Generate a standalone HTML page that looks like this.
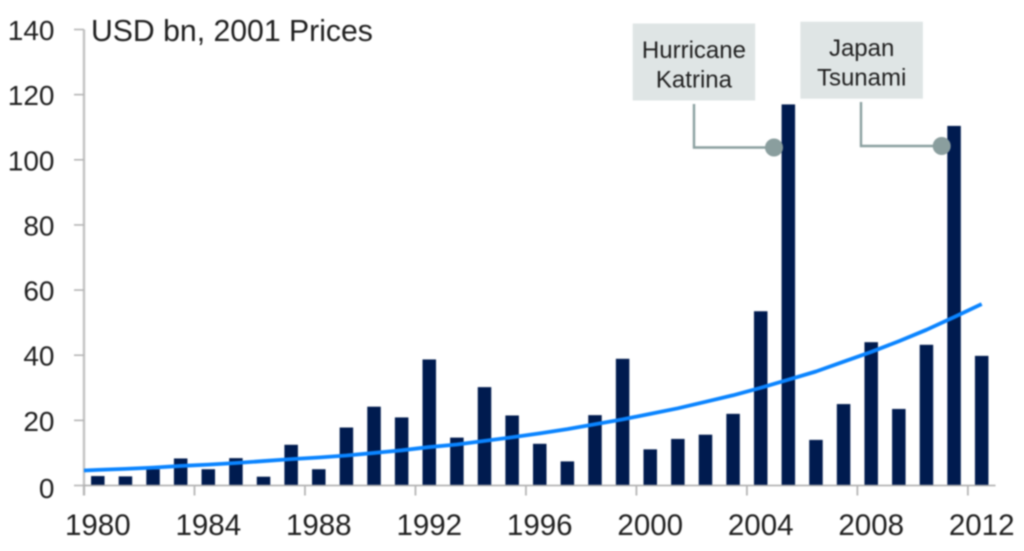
<!DOCTYPE html>
<html lang="en">
<head>
<meta charset="utf-8">
<title>USD bn, 2001 Prices</title>
<style>
html,body{margin:0;padding:0;background:#fff;}
body{width:1024px;height:551px;overflow:hidden;}
svg{display:block;filter:blur(0.75px);}
text{font-family:"Liberation Sans",sans-serif;fill:#1f1f1f;}
</style>
</head>
<body>
<svg id="chart" xmlns="http://www.w3.org/2000/svg" width="1024" height="551" viewBox="0 0 1024 551"></svg>
<script>
const categories = [1980,1981,1982,1983,1984,1985,1986,1987,1988,1989,1990,1991,1992,1993,1994,1995,1996,1997,1998,1999,2000,2001,2002,2003,2004,2005,2006,2007,2008,2009,2010,2011,2012];
const lossValues = [2.9,2.8,5,8.3,5,8.4,2.7,12.5,5,17.8,24.2,20.9,38.7,14.7,30.2,21.5,12.8,7.4,21.6,38.9,11.1,14.3,15.6,22,53.5,117,14,25,44,23.5,43.2,110.4,39.8];
const trendYears = [1979.5,1980,1981,1982,1983,1984,1985,1986,1987,1988,1989,1990,1991,1992,1993,1994,1995,1996,1997,1998,1999,2000,2001,2002,2003,2004,2005,2006,2007,2008,2009,2010,2011,2012];
const trendValues = [4.6,4.8,5.1,5.5,6,6.4,6.9,7.5,8.1,8.6,9.2,10,10.8,11.8,12.6,13.7,14.8,16,17.3,18.8,20.3,22,23.7,25.7,27.7,30,32.5,35,38,41,44.3,47.8,51.7,55.7];
const yTickLabels = [0,20,40,60,80,100,120,140];
const xTickLabels = [1980,1984,1988,1992,1996,2000,2004,2008,2012];
const chartTitle = "USD bn, 2001 Prices";

const NS = "http://www.w3.org/2000/svg";
const svg = document.getElementById("chart");
const plotLeft = 84, plotRight = 995.5, plotBottom = 485.5, plotTop = 29.5;
const yMax = 140;
const barWidth = 13.5;
const bandWidth = (plotRight - plotLeft) / categories.length;

function yScale(v){ return plotBottom - (v / yMax) * (plotBottom - plotTop); }
function xCenter(year){ return plotLeft + (year - categories[0] + 0.5) * bandWidth; }
function xEdge(year){ return plotLeft + (year - categories[0]) * bandWidth; }
function make(tag, attrs, parent){
  const el = document.createElementNS(NS, tag);
  for (const k in attrs) el.setAttribute(k, attrs[k]);
  (parent || svg).appendChild(el);
  return el;
}

// y axis
const yAxis = make("line", {x1:plotLeft, x2:plotLeft, y1:plotTop, y2:plotBottom + 10, stroke:"#c2c2c2", "stroke-width":2.4});


yTickLabels.forEach(function(v){
  const tick = make("line", {x1:plotLeft - 10, x2:plotLeft, y1:yScale(v), y2:yScale(v), stroke:"#b5b5b5", "stroke-width":1.6});
  
  
  const label = make("text", {x:54.5, y:yScale(v) + (v === 0 ? 12.5 : 10.5), "text-anchor":"end", "font-size":28});
  label.textContent = v;
  
  
});

// bars
categories.forEach(function(year, i){
  const bar = make("rect", {x:xCenter(year) - barWidth / 2, y:yScale(lossValues[i]), width:barWidth, height:plotBottom - yScale(lossValues[i]), fill:"#001b4f"});
  
  
});

// x axis
const xAxis = make("line", {x1:plotLeft, x2:plotRight, y1:plotBottom, y2:plotBottom, stroke:"#a8a8a8", "stroke-width":1.6});


xTickLabels.forEach(function(year){
  const tick = make("line", {x1:xEdge(year), x2:xEdge(year), y1:plotBottom, y2:plotBottom + 10, stroke:"#b5b5b5", "stroke-width":1.8});
  
  
  const label = make("text", {x:xCenter(year), y:535, "text-anchor":"middle", "font-size":29.5});
  label.textContent = year;
  
  
});

// trend line
const trendPoints = trendYears.map(function(year, i){ return xCenter(year) + "," + yScale(trendValues[i]); }).join(" ");
const trend = make("polyline", {points:trendPoints, fill:"none", stroke:"#0a84ff", "stroke-width":3.8, "stroke-linejoin":"round"});



// chart title
const title = make("text", {x:91, y:41, "font-size":30.2});
title.textContent = chartTitle;



// annotations
function annotation(opts){
  const box = make("rect", {x:opts.bx, y:opts.by, width:122.5, height:77, fill:"#dfe5e5"});
  
  
  const l1 = make("text", {x:opts.bx + 61.25, y:opts.by + 34.5, "text-anchor":"middle", "font-size":opts.fs});
  l1.textContent = opts.line1;
  
  
  const l2 = make("text", {x:opts.bx + 61.25, y:opts.by + 64, "text-anchor":"middle", "font-size":opts.fs});
  l2.textContent = opts.line2;
  
  
  const conn = make("polyline", {points:opts.lx + "," + opts.ly + " " + opts.lx + "," + opts.dy + " " + opts.dx + "," + opts.dy, fill:"none", stroke:"#8ba0a0", "stroke-width":2.4});
  
  
  const dot = make("circle", {cx:opts.dx, cy:opts.dy, r:9, fill:"#8a9e9e"});
  
  
}
annotation({name:"hurricane-katrina", bx:632.7, by:23.5, line1:"Hurricane", line2:"Katrina", fs:24, lx:694, ly:104, dx:774, dy:147.5});
annotation({name:"japan-tsunami", bx:800.4, by:21.7, line1:"Japan", line2:"Tsunami", fs:24, lx:861, ly:102, dx:941.7, dy:146});
</script>
</body>
</html>
